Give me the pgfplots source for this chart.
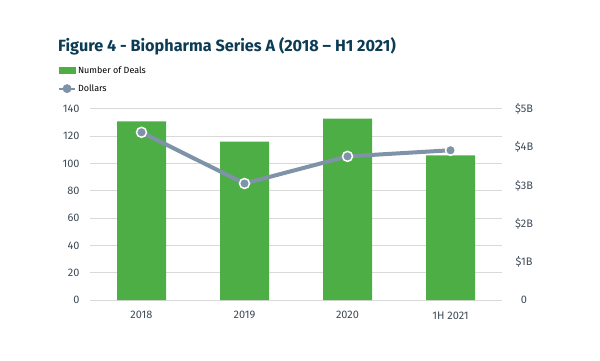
\documentclass[border=0pt]{standalone}
\usepackage{pgfplots}
\pgfplotsset{compat=1.18}
\usepackage{fontspec}
\setmainfont{Fira Sans}
\definecolor{bargreen}{HTML}{4DAE46}
\definecolor{linegray}{HTML}{7E93A8}
\definecolor{titleblue}{HTML}{0C3B54}
\definecolor{ticktext}{HTML}{3E4A56}
\definecolor{gridgray}{HTML}{D9D9D9}
\begin{document}
\begin{tikzpicture}[x=1bp,y=1bp]
\path[use as bounding box] (0,0) rectangle (600,360);
\node[anchor=base west, inner sep=0, font=\fontsize{16.3}{19}\selectfont\bfseries, text=titleblue] at (58,309) {Figure 4 - Biopharma Series A (2018 – H1 2021)};
\begin{axis}[
  at={(90bp,60bp)}, anchor=south west, scale only axis, width=412bp, height=191bp,
  xmin=-0.5, xmax=3.5, ymin=0, ymax=140,
  ytick={0,20,...,140}, xtick={0,1,2,3}, xticklabels={2018,2019,2020,1H 2021},
  axis line style={draw=none}, major tick length=0,
  ymajorgrids, grid style={gridgray, line width=1bp},
  tick label style={font=\fontsize{11}{13}\selectfont, text=ticktext},
  /pgf/number format/assume math mode=true,
  yticklabel style={xshift=-7bp},
  xticklabel style={yshift=-8bp},
]
\addplot[ybar, bar width=49bp, fill=bargreen, draw=none] coordinates {(0,131) (1,116) (2,133) (3,106)};
\end{axis}
\begin{axis}[
  at={(90bp,60bp)}, anchor=south west, scale only axis, width=412bp, height=191bp,
  xmin=-0.5, xmax=3.5, ymin=0, ymax=5,
  axis x line=none, axis y line*=right,
  axis line style={draw=none}, major tick length=0,
  ytick={0,1,2,3,4,5}, yticklabels={0,\$1B,\$2B,\$3B,\$4B,\$5B},
  tick label style={font=\fontsize{11}{13}\selectfont, text=ticktext},
  yticklabel style={anchor=center, xshift=22bp},
  legend style={at={(-0.078,1.235)}, anchor=north west, draw=none, fill=none,
    font=\fontsize{9}{10}\selectfont, row sep=6bp, inner sep=0pt},
  legend cell align=left,
]
\addlegendimage{legend image code/.code={\fill[bargreen] (0bp,-3bp) rectangle (16bp,3bp);}}
\addlegendentry{Number of Deals}
\addplot[linegray, line width=4bp, mark=*, mark size=5bp,
  mark options={fill=linegray, draw=white, line width=1.5bp},
  legend image code/.code={\draw[linegray, line width=2bp] (0bp,0bp)--(16bp,0bp); \fill[linegray] (8bp,0bp) circle (2.3bp);}]
  coordinates {(0,4.39) (1,3.05) (2,3.76) (3,3.92)};
\addlegendentry{Dollars}
\end{axis}
\end{tikzpicture}
\end{document}
